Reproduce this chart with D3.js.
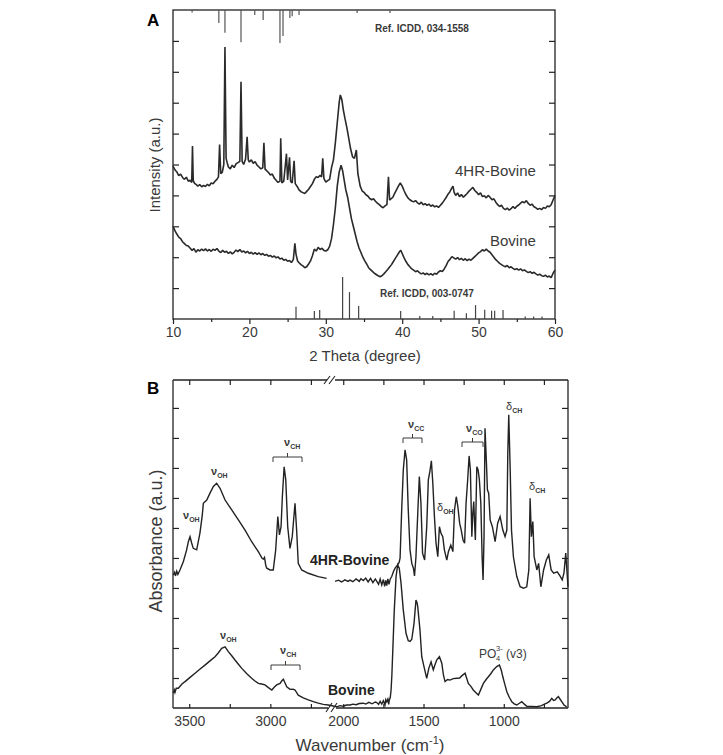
<!DOCTYPE html>
<html>
<head>
<meta charset="utf-8">
<script src="https://cdn.jsdelivr.net/npm/d3@7"></script>
<style>
body { margin: 0; background: #fff; }
text { font-family: "Liberation Sans", Arial, sans-serif; }
</style>
</head>
<body>
<div id="chart"></div>
<script>
// ---- panel A: XRD (2 theta, intensity a.u.) ----
var xrdHR = [[10,49.5],[10.25,48.3],[10.5,47.6],[10.75,46.4],[11,46.9],[11.25,45.8],[11.5,45.2],[11.75,45.9],[12,44.6],[12.25,44.9],[12.45,44.2],[12.55,56.0],[12.65,44.8],[12.8,44.0],[13,43.6],[13.25,43.0],[13.5,43.5],[13.75,42.8],[14,43.2],[14.25,42.9],[14.5,43.6],[14.75,43.1],[15,44.0],[15.25,43.8],[15.5,44.6],[15.75,45.2],[15.95,46.0],[16.1,56.5],[16.25,47.0],[16.45,47.5],[16.65,50],[16.8,88.0],[16.95,52],[17.1,50.5],[17.25,49.2],[17.5,48.6],[17.75,49.8],[18,49.0],[18.25,50.2],[18.5,50.6],[18.75,51],[18.9,76.8],[19.05,51],[19.25,50.0],[19.5,51.8],[19.7,59.0],[19.85,51.5],[20,50.8],[20.25,51.5],[20.5,50.4],[20.75,50.9],[21,49.8],[21.25,49.2],[21.5,48.6],[21.75,48.9],[21.9,57.0],[22.05,48.5],[22.25,48.0],[22.5,47.4],[22.75,46.6],[23,46.9],[23.25,45.6],[23.5,44.9],[23.75,44.2],[24,44.6],[24.1,58.5],[24.25,44.0],[24.5,44.6],[24.85,53.5],[25,45],[25.25,52.3],[25.4,44.5],[25.6,44.0],[25.85,51.2],[26,43.8],[26.25,42.9],[26.5,41.8],[26.75,41.2],[27,40.9],[27.25,40.6],[27.5,41.3],[27.75,42.0],[28,42.9],[28.25,43.8],[28.5,45.2],[28.75,46.0],[29,45.8],[29.25,46.5],[29.45,46.0],[29.6,52.0],[29.75,45.5],[30,44.3],[30.25,44.8],[30.5,45.2],[30.75,49.0],[31,51.5],[31.25,57.0],[31.5,63.5],[31.75,70.0],[31.9,72.5],[32.1,71.0],[32.3,67.6],[32.5,65.0],[32.75,62.0],[33,58.5],[33.25,55.0],[33.5,52.5],[33.75,52.0],[34,54.7],[34.2,47.0],[34.5,43.0],[34.75,41.5],[35,41.0],[35.25,40.2],[35.5,39.8],[35.75,39.0],[36,38.6],[36.25,38.9],[36.5,38.1],[36.75,37.5],[37,37.0],[37.25,36.4],[37.5,36.0],[37.75,36.6],[38,37.0],[38.2,46.0],[38.35,38.5],[38.6,39.0],[38.8,39.5],[39,40.6],[39.25,41.8],[39.5,43.0],[39.75,44.0],[40,43.0],[40.25,41.5],[40.5,40.2],[40.75,39.2],[41,38.6],[41.25,38.2],[41.5,37.9],[41.75,38.3],[42,37.6],[42.25,37.2],[42.5,37.8],[42.75,37.0],[43,37.3],[43.25,36.8],[43.5,37.2],[43.75,36.5],[44,36.9],[44.25,36.3],[44.5,36.6],[44.75,36.1],[45,36.8],[45.25,37.5],[45.5,38.4],[45.75,39.3],[46,40.4],[46.25,41.2],[46.5,42.4],[46.65,43.0],[46.8,41.0],[47,40.0],[47.25,40.8],[47.5,39.6],[47.75,40.3],[48,39.4],[48.25,40.0],[48.5,40.6],[48.75,41.4],[49,42.0],[49.25,42.6],[49.5,41.6],[49.75,41.0],[50,40.2],[50.25,40.8],[50.5,39.6],[50.75,39.9],[51,39.2],[51.25,40.0],[51.5,39.4],[51.75,38.6],[52,38.9],[52.25,37.8],[52.5,37.0],[52.75,36.4],[53,36.8],[53.25,35.8],[53.5,35.4],[53.75,35.9],[54,35.2],[54.25,35.7],[54.5,36.4],[54.75,35.8],[55,36.5],[55.25,36.9],[55.5,37.5],[55.75,38.0],[56,37.6],[56.25,38.3],[56.5,37.4],[56.75,36.8],[57,37.2],[57.25,36.3],[57.5,36.0],[57.75,35.5],[58,35.8],[58.25,35.4],[58.5,36.1],[58.75,35.8],[59,36.6],[59.25,36.3],[59.5,37.0],[59.75,38.5],[60,40.0]];

var xrdBov = [[10,30.0],[10.25,28.6],[10.5,27.5],[10.75,26.5],[11,26.0],[11.25,25.0],[11.5,24.4],[11.75,23.8],[12,23.6],[12.25,22.9],[12.5,22.2],[12.75,22.8],[13,21.6],[13.25,22.4],[13.5,22.0],[13.75,22.6],[14,22.1],[14.25,22.7],[14.5,22.0],[14.75,22.5],[15,21.9],[15.25,22.6],[15.5,22.2],[15.75,22.8],[16,22.0],[16.25,21.5],[16.5,22.2],[16.75,21.6],[17,21.9],[17.25,21.2],[17.5,21.7],[17.75,21.1],[18,21.6],[18.25,22.3],[18.5,21.8],[18.75,22.5],[19,21.7],[19.25,22.0],[19.5,21.4],[19.75,21.9],[20,21.2],[20.25,21.6],[20.5,21.0],[20.75,21.5],[21,20.9],[21.25,21.4],[21.5,20.8],[21.75,21.2],[22,20.6],[22.25,20.9],[22.5,20.3],[22.75,20.6],[23,20.0],[23.25,20.4],[23.5,19.8],[23.75,20.1],[24,19.4],[24.25,19.7],[24.5,19.0],[24.75,19.3],[25,18.7],[25.25,18.9],[25.5,18.3],[25.75,19.2],[25.95,24.5],[26.1,21.0],[26.3,18.8],[26.5,18.2],[26.75,17.6],[27,17.2],[27.25,16.6],[27.5,16.9],[27.75,17.8],[28,18.8],[28.25,20.5],[28.5,22.6],[28.75,22.0],[29,23.2],[29.25,22.5],[29.5,22.9],[29.75,22.2],[30,22.0],[30.25,22.4],[30.5,23.5],[30.75,26.0],[31,30.5],[31.25,36.0],[31.5,43.0],[31.75,47.5],[32,49.8],[32.2,48.0],[32.4,45.0],[32.6,42.0],[32.85,39.5],[33.1,36.0],[33.35,32.5],[33.6,30.0],[33.85,27.5],[34.1,25.0],[34.35,23.0],[34.6,21.5],[34.85,20.0],[35.1,18.8],[35.35,17.8],[35.6,16.6],[35.85,16.0],[36.1,15.4],[36.35,14.8],[36.6,14.4],[36.85,14.0],[37.1,13.7],[37.35,14.0],[37.6,14.6],[37.85,15.3],[38.1,16.0],[38.35,16.8],[38.6,17.6],[38.85,18.6],[39.1,19.6],[39.35,20.6],[39.6,21.6],[39.8,22.3],[40,21.2],[40.25,19.8],[40.5,18.6],[40.75,17.6],[41,16.9],[41.25,16.2],[41.5,15.8],[41.75,15.3],[42,15.6],[42.25,15.0],[42.5,14.6],[42.75,14.9],[43,14.4],[43.25,14.8],[43.5,14.3],[43.75,14.7],[44,14.2],[44.25,14.8],[44.5,14.5],[44.75,15.2],[45,15.6],[45.25,15.4],[45.5,16.2],[45.75,17.3],[46,18.6],[46.25,19.3],[46.5,20.2],[46.75,19.8],[47,19.4],[47.25,19.9],[47.5,19.2],[47.75,19.6],[48,19.0],[48.25,19.5],[48.5,18.9],[48.75,19.4],[49,19.0],[49.25,19.6],[49.5,20.2],[49.75,20.8],[50,21.4],[50.25,21.8],[50.5,22.4],[50.75,22.0],[51,22.6],[51.25,22.0],[51.5,21.6],[51.75,20.8],[52,20.0],[52.25,19.2],[52.5,18.6],[52.75,18.0],[53,17.6],[53.25,17.2],[53.5,16.9],[53.75,17.3],[54,16.6],[54.25,16.9],[54.5,16.4],[54.75,16.0],[55,16.3],[55.25,15.8],[55.5,16.2],[55.75,15.6],[56,15.9],[56.25,15.4],[56.5,15.0],[56.75,15.3],[57,14.8],[57.25,15.1],[57.5,14.6],[57.75,14.2],[58,14.5],[58.25,14.0],[58.5,13.8],[58.75,14.2],[59,13.6],[59.25,13.9],[59.5,13.4],[59.75,14.8],[60,15.8]];

// reference patterns: [2theta, relative height]
var ref034 = [[12.5,0.8],[16.0,4.2],[16.8,7.4],[18.9,10.4],[20.7,1.6],[21.8,3.2],[24.0,10.7],[24.4,8.4],[25.3,2.6],[25.6,2.0],[26.5,1.6],[34.1,1.0],[38.4,1.0]];
var ref003 = [[26.1,4.0],[28.5,2.6],[29.2,2.9],[32.2,13.6],[33.1,8.7],[34.3,4.2],[39.8,2.6],[42.3,1.0],[44.0,1.0],[46.8,2.7],[48.4,1.9],[49.6,4.5],[50.8,3.0],[51.7,2.7],[52.1,2.7],[53.2,2.9],[56.1,0.8],[57.2,0.8],[58.3,0.8]];

var xrdTicks = [10, 20, 30, 40, 50, 60];
var xrdMinor = [15, 25, 35, 45, 55];

// ---- panel B: FTIR (wavenumber, absorbance a.u.) ----
var ftirHRhigh = [[3598,4.43],[3590,4.52],[3585,4.40],[3577,4.56],[3570,4.45],[3557,4.60],[3536,4.88],[3516,5.27],[3505,5.55],[3495,5.71],[3485,5.50],[3475,5.32],[3454,5.27],[3434,5.83],[3420,6.40],[3413,6.82],[3392,6.93],[3372,7.16],[3351,7.38],[3331,7.49],[3310,7.32],[3279,6.93],[3238,6.60],[3197,6.27],[3156,5.93],[3115,5.54],[3074,5.21],[3050,4.98],[3043,4.96],[3036,5.02],[3028,4.75],[3022,4.66],[3002,4.60],[2982,4.60],[2967,5.27],[2954,6.38],[2944,5.77],[2934,6.04],[2926,7.04],[2915,8.04],[2905,7.60],[2893,6.04],[2879,5.32],[2865,5.71],[2848,6.82],[2838,5.93],[2828,4.82],[2807,4.60],[2766,4.49],[2705,4.38],[2653,4.32]];
var ftirHRlow = [[2051,4.22],[2030,4.26],[2010,4.20],[1990,4.27],[1970,4.22],[1958,4.26],[1940,4.21],[1920,4.30],[1900,4.22],[1890,4.31],[1875,4.25],[1860,4.33],[1845,4.20],[1830,4.32],[1815,4.18],[1800,4.30],[1791,4.22],[1780,4.12],[1770,4.30],[1760,4.10],[1750,4.28],[1742,4.05],[1735,4.25],[1729,4.08],[1722,4.30],[1715,4.12],[1707,4.30],[1698,4.38],[1687,4.55],[1677,4.66],[1661,4.77],[1652,4.85],[1646,4.99],[1636,6.60],[1626,7.93],[1615,8.60],[1605,8.27],[1595,6.60],[1584,5.27],[1573,4.82],[1563,4.66],[1556,4.40],[1547,5.04],[1535,6.60],[1526,7.71],[1516,6.82],[1506,5.16],[1493,4.93],[1480,6.04],[1470,7.60],[1459,7.93],[1451,8.24],[1442,7.49],[1432,6.38],[1422,5.49],[1411,5.04],[1401,6.04],[1391,5.82],[1380,5.71],[1370,5.27],[1355,4.93],[1345,5.21],[1330,5.43],[1317,5.21],[1307,6.60],[1296,7.04],[1286,6.71],[1275,6.16],[1265,5.93],[1254,5.60],[1244,5.49],[1235,6.82],[1225,7.60],[1216,8.40],[1208,7.93],[1199,5.71],[1193,6.49],[1187,6.88],[1181,6.04],[1177,5.60],[1168,8.04],[1160,7.93],[1152,7.60],[1143,6.82],[1135,5.04],[1129,4.27],[1123,5.71],[1117,9.32],[1108,8.16],[1102,7.27],[1094,7.16],[1085,6.27],[1071,6.04],[1054,5.54],[1038,6.16],[1023,6.38],[1006,5.93],[992,5.71],[981,5.93],[975,8.49],[969,9.77],[960,7.93],[952,5.93],[940,5.04],[919,4.38],[898,4.04],[877,3.99],[857,4.04],[844,4.60],[836,6.99],[828,5.71],[819,6.21],[811,5.04],[794,4.60],[783,4.82],[769,4.04],[752,4.60],[735,4.93],[720,5.10],[705,4.60],[689,4.49],[667,4.54],[650,4.40],[636,4.27],[625,4.50],[614,5.16],[600,4.04]];
var ftirBovHigh = [[3598,0.50],[3592,0.60],[3588,0.52],[3580,0.66],[3567,0.66],[3545,0.80],[3526,0.88],[3495,1.02],[3464,1.16],[3433,1.30],[3403,1.43],[3372,1.57],[3341,1.71],[3320,1.84],[3300,1.99],[3279,2.04],[3259,1.88],[3238,1.74],[3218,1.60],[3197,1.46],[3176,1.32],[3145,1.14],[3115,0.99],[3095,0.90],[3074,0.82],[3054,0.80],[3033,0.77],[3012,0.68],[2991,0.60],[2975,0.70],[2961,0.77],[2940,0.82],[2930,0.90],[2920,0.96],[2910,0.84],[2899,0.71],[2879,0.62],[2860,0.63],[2848,0.60],[2828,0.43],[2797,0.34],[2766,0.27],[2735,0.21],[2705,0.16],[2674,0.12],[2643,0.10]];
var ftirBovLow = [[2041,0.04],[2020,0.08],[2000,0.06],[1980,0.10],[1958,0.10],[1940,0.13],[1920,0.11],[1900,0.15],[1875,0.16],[1860,0.13],[1840,0.19],[1820,0.14],[1800,0.20],[1791,0.18],[1780,0.12],[1770,0.22],[1760,0.13],[1750,0.24],[1740,0.10],[1735,0.28],[1729,0.21],[1722,0.30],[1717,0.12],[1713,0.27],[1707,0.35],[1702,0.60],[1697,1.10],[1692,1.82],[1682,3.27],[1671,4.38],[1661,4.77],[1651,4.66],[1640,4.16],[1626,3.27],[1609,2.49],[1595,2.24],[1584,2.22],[1573,2.29],[1559,2.82],[1547,3.60],[1540,3.50],[1536,3.38],[1522,2.60],[1511,1.71],[1497,1.38],[1480,0.99],[1467,1.32],[1453,1.54],[1446,1.40],[1439,1.27],[1428,1.45],[1418,1.60],[1401,1.71],[1386,1.49],[1376,1.10],[1366,0.88],[1350,0.95],[1335,0.93],[1315,0.98],[1293,0.99],[1275,1.00],[1262,1.07],[1241,1.16],[1221,0.82],[1205,0.72],[1190,0.60],[1175,0.52],[1158,0.43],[1143,0.62],[1127,0.82],[1110,0.95],[1096,1.04],[1080,1.15],[1065,1.27],[1044,1.38],[1027,1.43],[1015,1.25],[1006,1.04],[993,0.78],[981,0.54],[965,0.35],[950,0.21],[935,0.14],[919,0.10],[905,0.15],[888,0.21],[870,0.12],[857,0.06],[825,0.05],[794,0.04],[765,0.08],[750,0.12],[732,0.16],[715,0.22],[701,0.32],[690,0.25],[680,0.27],[670,0.33],[660,0.38],[650,0.30],[639,0.21],[625,0.10],[608,0.04]];

var ftirTicksHigh = [3500, 3250, 3000, 2750];
var ftirTicksLow = [2000, 1750, 1500, 1250, 1000, 750];

var w = 723, h = 755;
var ink = '#222', grey = '#3a3a3a';

var svg = d3.select('#chart')
  .append('svg')
  .attr('width', w)
  .attr('height', h);

// ================= panel A =================
var xA = d3.scaleLinear().domain([10, 60]).range([173, 555]);
var yA = d3.scaleLinear().domain([0, 100]).range([319, 10]);

var lineA = d3.line().x(d => xA(d[0])).y(d => yA(d[1]));

var gA = svg.append('g');

gA.append('g')
  .attr('transform', 'translate(0,319)')
  .call(d3.axisBottom(xA).tickValues(xrdTicks).tickSize(5).tickPadding(3))
  .call(g => g.select('.domain').remove())
  .call(g => g.selectAll('text').attr('font-size', 14).attr('fill', grey).attr('font-family', null));

gA.append('g')
  .attr('transform', 'translate(0,319)')
  .call(d3.axisBottom(xA).tickValues(xrdMinor).tickSize(3).tickFormat(''))
  .call(g => g.select('.domain').remove());

gA.append('g')
  .attr('transform', 'translate(173,0)')
  .call(d3.axisLeft(yA).tickValues(d3.range(10, 100, 10)).tickSize(-6).tickFormat(''))
  .call(g => g.select('.domain').remove());

gA.append('g')
  .attr('transform', 'translate(555,0)')
  .call(d3.axisRight(yA).tickValues(d3.range(10, 100, 10)).tickSize(-6).tickFormat(''))
  .call(g => g.select('.domain').remove());

gA.selectAll('.tick line').attr('stroke', ink).attr('stroke-width', 1.2);

gA.append('rect')
  .attr('x', 173).attr('y', 10).attr('width', 382).attr('height', 309)
  .attr('fill', 'none').attr('stroke', ink).attr('stroke-width', 1.3);

gA.selectAll('.top-stick')
  .data(ref034)
  .enter()
  .append('line')
  .attr('x1', d => xA(d[0])).attr('x2', d => xA(d[0]))
  .attr('y1', yA(100)).attr('y2', d => yA(100 - d[1]))
  .attr('stroke', '#555').attr('stroke-width', 1.2);

gA.selectAll('.bot-stick')
  .data(ref003)
  .enter()
  .append('line')
  .attr('x1', d => xA(d[0])).attr('x2', d => xA(d[0]))
  .attr('y1', yA(0)).attr('y2', d => yA(d[1]))
  .attr('stroke', '#444').attr('stroke-width', 1.2);

// noisy diffractograms: a slightly heavier stroke stands in for the hairy trace
gA.append('path').datum(xrdHR)
  .attr('d', lineA).attr('fill', 'none').attr('stroke', '#2a2a2a').attr('stroke-width', 1.6)
  .attr('stroke-linejoin', 'bevel');
gA.append('path').datum(xrdBov)
  .attr('d', lineA).attr('fill', 'none').attr('stroke', '#2a2a2a').attr('stroke-width', 1.6)
  .attr('stroke-linejoin', 'bevel');

gA.append('text').attr('x', 147).attr('y', 26).attr('font-size', 17).attr('font-weight', 'bold').text('A');
gA.append('text').attr('x', 375).attr('y', 32).attr('font-size', 10).attr('font-weight', 'bold').attr('fill', grey).text('Ref. ICDD, 034-1558');
gA.append('text').attr('x', 380).attr('y', 297).attr('font-size', 10).attr('font-weight', 'bold').attr('fill', grey).text('Ref. ICDD, 003-0747');
gA.append('text').attr('x', 455).attr('y', 176).attr('font-size', 15).attr('fill', grey).text('4HR-Bovine');
gA.append('text').attr('x', 490).attr('y', 246).attr('font-size', 15).attr('fill', grey).text('Bovine');
gA.append('text').attr('x', 365).attr('y', 361).attr('font-size', 15).attr('fill', grey)
  .attr('text-anchor', 'middle').text('2 Theta (degree)');
gA.append('text').attr('transform', 'translate(160,165) rotate(-90)').attr('font-size', 15).attr('fill', grey)
  .attr('text-anchor', 'middle').text('Intensity (a.u.)');

// ================= panel B =================
var xHi = d3.scaleLinear().domain([3600, 2620]).range([173, 332]);
var xLo = d3.scaleLinear().domain([2070, 600]).range([332, 568]);
var xB = wn => wn > 2300 ? xHi(wn) : xLo(wn);
var yB = d3.scaleLinear().domain([0, 10.93]).range([708, 380]);

var lineB = d3.line().x(d => xB(d[0])).y(d => yB(d[1]));

var gB = svg.append('g');
var fmt = d => d % 500 === 0 ? d : '';

[[xHi, ftirTicksHigh], [xLo, ftirTicksLow]].forEach(function(p) {
  gB.append('g')
    .attr('transform', 'translate(0,708)')
    .call(d3.axisBottom(p[0]).tickValues(p[1]).tickSize(-4).tickPadding(8).tickFormat(fmt))
    .call(g => g.select('.domain').remove())
    .call(g => g.selectAll('text').attr('font-size', 14).attr('fill', grey).attr('font-family', null));
  gB.append('g')
    .attr('transform', 'translate(0,380)')
    .call(d3.axisTop(p[0]).tickValues(p[1]).tickSize(-5).tickFormat(''))
    .call(g => g.select('.domain').remove());
});

gB.append('g')
  .attr('transform', 'translate(173,0)')
  .call(d3.axisLeft(yB).tickValues(d3.range(1, 11)).tickSize(-6).tickFormat(''))
  .call(g => g.select('.domain').remove());
gB.append('g')
  .attr('transform', 'translate(568,0)')
  .call(d3.axisRight(yB).tickValues(d3.range(1, 11)).tickSize(-6).tickFormat(''))
  .call(g => g.select('.domain').remove());

gB.selectAll('.tick line').attr('stroke', ink).attr('stroke-width', 1.2);

// frame with axis break
var frame = [
  [[173, 380], [173, 708]], [[568, 380], [568, 708]],
  [[173, 380], [327, 380]], [[335, 380], [568, 380]],
  [[173, 708], [328, 708]], [[336, 708], [568, 708]]
];
gB.selectAll('.frame')
  .data(frame)
  .enter()
  .append('line')
  .attr('x1', d => d[0][0]).attr('y1', d => d[0][1])
  .attr('x2', d => d[1][0]).attr('y2', d => d[1][1])
  .attr('stroke', ink).attr('stroke-width', 1.3);

var breaks = [[324, 384, 330, 376], [329, 384, 335, 376], [326, 712, 332, 703], [331, 712, 337, 703]];
gB.selectAll('.brk')
  .data(breaks)
  .enter()
  .append('line')
  .attr('x1', d => d[0]).attr('y1', d => d[1]).attr('x2', d => d[2]).attr('y2', d => d[3])
  .attr('stroke', ink).attr('stroke-width', 1.1);

gB.append('path').datum(ftirHRhigh)
  .attr('d', lineB).attr('fill', 'none').attr('stroke', ink).attr('stroke-width', 1.4);
gB.append('path').datum(ftirHRlow)
  .attr('d', lineB).attr('fill', 'none').attr('stroke', ink).attr('stroke-width', 1.4);
gB.append('path').datum(ftirBovHigh.concat(ftirBovLow))
  .attr('d', lineB).attr('fill', 'none').attr('stroke', ink).attr('stroke-width', 1.4);

gB.append('text').attr('x', 147).attr('y', 394).attr('font-size', 17).attr('font-weight', 'bold').text('B');
gB.append('text').attr('x', 310).attr('y', 565).attr('font-size', 14).attr('font-weight', 'bold').attr('fill', ink).text('4HR-Bovine');
gB.append('text').attr('x', 328).attr('y', 695).attr('font-size', 14).attr('font-weight', 'bold').attr('fill', ink).text('Bovine');

// band labels: [glyph, subscript, x, baseline]
var bands = [
  ['ν', 'OH', 183, 519], ['ν', 'OH', 211, 475], ['ν', 'CH', 284, 446],
  ['ν', 'OH', 220, 639], ['ν', 'CH', 280, 654],
  ['ν', 'CC', 408, 428], ['ν', 'CO', 466, 432],
  ['δ', 'CH', 506, 410], ['δ', 'CH', 529, 490], ['δ', 'OH', 437, 511]
];
bands.forEach(function(b) {
  var t = gB.append('text').attr('x', b[2]).attr('y', b[3]).attr('fill', grey)
    .attr('font-size', 11).attr('font-weight', b[0] === 'ν' ? 'bold' : 'normal');
  t.append('tspan').text(b[0]);
  t.append('tspan').attr('dy', 3).attr('font-size', 7).attr('font-weight', 'bold').text(b[1]);
});

// brackets: [x1, x2, y]
var brackets = [[273, 302, 457], [271, 300, 665], [403, 422, 438], [462, 483, 442]];
gB.selectAll('.brkt')
  .data(brackets)
  .enter()
  .append('path')
  .attr('d', d => 'M' + d[0] + ',' + (d[2] + 5) + 'V' + d[2] + 'H' + d[1] + 'V' + (d[2] + 5) +
    'M' + ((d[0] + d[1]) / 2) + ',' + d[2] + 'v-4')
  .attr('fill', 'none').attr('stroke', grey).attr('stroke-width', 1);

gB.append('text').attr('x', 479).attr('y', 658).attr('font-size', 12).attr('fill', grey).text('PO');
gB.append('text').attr('x', 496).attr('y', 651).attr('font-size', 7.5).attr('fill', grey).text('3-');
gB.append('text').attr('x', 496).attr('y', 661).attr('font-size', 7.5).attr('fill', grey).text('4');
gB.append('text').attr('x', 506).attr('y', 658).attr('font-size', 12).attr('fill', grey).text('(v3)');

var xl = gB.append('text').attr('x', 370).attr('y', 751).attr('font-size', 17).attr('fill', grey)
  .attr('text-anchor', 'middle');
xl.append('tspan').text('Wavenumber (cm');
xl.append('tspan').attr('dy', -7).attr('font-size', 11).text('-1');
xl.append('tspan').attr('dy', 7).text(')');

gB.append('text').attr('transform', 'translate(162,541) rotate(-90)').attr('font-size', 18).attr('fill', grey)
  .attr('text-anchor', 'middle').text('Absorbance (a.u.)');
</script>
</body>
</html>
